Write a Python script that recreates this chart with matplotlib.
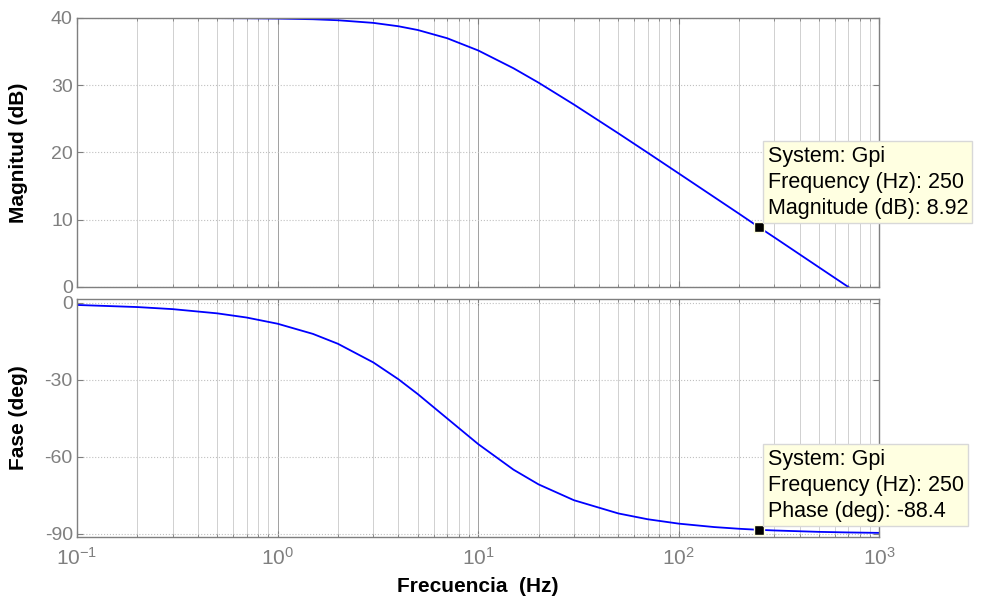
import numpy as np
import matplotlib
matplotlib.use('Agg')
from matplotlib import pyplot as plt
from matplotlib.ticker import LogLocator, FixedLocator, NullFormatter

plt.rcParams['font.family'] = ['Liberation Sans', 'DejaVu Sans']
plt.rcParams['axes.unicode_minus'] = False

freq = [0.1, 0.2, 0.3, 0.5, 0.7, 1, 1.5, 2, 3, 4, 5, 7, 10, 15, 20, 30, 50,
        70, 100, 150, 200, 250, 300, 500, 700, 1000]
mag_db = [40.00, 40.00, 39.99, 39.98, 39.96, 39.91, 39.81, 39.66, 39.27, 38.77,
          38.21, 36.99, 35.17, 32.52, 30.38, 27.13, 22.84, 19.96, 16.88, 13.37,
          10.88, 8.92, 7.36, 2.92, 0.00, -3.10]
phase_deg = [-0.82, -1.64, -2.45, -4.09, -5.71, -8.13, -12.09, -15.95, -23.20,
             -29.74, -35.54, -45.00, -55.01, -64.98, -70.71, -76.87, -82.03,
             -84.29, -86.00, -87.33, -88.00, -88.40, -88.66, -89.20, -89.43, -89.60]
tip_freq = 250
tip_mag = 8.92
tip_phase = -88.4

gray = '#7f7f7f'
fig = plt.figure(figsize=(9.83, 6.01), dpi=100)
ax1 = fig.add_axes([0.0783, 0.5225, 0.8163, 0.4476])
ax2 = fig.add_axes([0.0783, 0.1065, 0.8163, 0.396])

for ax in (ax1, ax2):
    ax.set_xscale('log')
    ax.set_xlim(0.1, 1000)
    ax.xaxis.set_major_locator(LogLocator(base=10, numticks=10))
    ax.xaxis.set_minor_locator(LogLocator(base=10, subs=np.arange(2, 10), numticks=20))
    ax.xaxis.set_minor_formatter(NullFormatter())
    ax.grid(True, which='major', axis='x', color='#a0a0a0', linestyle='-', linewidth=0.7)
    ax.grid(True, which='minor', axis='x', color='#d0d0d0', linestyle='-', linewidth=0.7)
    ax.grid(True, which='major', axis='y', color='#c0c0c0', linestyle=':', linewidth=0.8)
    ax.tick_params(which='both', direction='in', top=True, right=True,
                   colors=gray, labelcolor=gray, labelsize=14)
    ax.tick_params(which='major', length=4, pad=3)
    ax.tick_params(which='minor', length=2.5)
    ax.tick_params(axis='x', which='major', labelsize=15, pad=7)
    for s in ax.spines.values():
        s.set_color(gray)
        s.set_linewidth(1.0)
    ax.set_axisbelow(True)

ax1.plot(freq, mag_db, color='#0000ff', linewidth=1.3)
ax1.set_ylim(0, 40)
ax1.yaxis.set_major_locator(FixedLocator([0, 10, 20, 30, 40]))
ax1.tick_params(axis='x', labelbottom=False)
ax1.set_ylabel('Magnitud (dB)', fontsize=15, fontweight='bold')

ax2.plot(freq, phase_deg, color='#0000ff', linewidth=1.3)
ax2.set_ylim(-91.2, 1.5)
ax2.yaxis.set_major_locator(FixedLocator([-90, -60, -30, 0]))
ax2.set_ylabel('Fase (deg)', fontsize=15, fontweight='bold')
ax2.set_xlabel('Frecuencia  (Hz)', fontsize=15, fontweight='bold', labelpad=6)
ax1.yaxis.set_label_coords(-0.061, 0.5)
ax2.yaxis.set_label_coords(-0.061, 0.5)

tips = [
    (ax1, tip_mag, f'System: Gpi\nFrequency (Hz): {tip_freq}\nMagnitude (dB): {tip_mag}'),
    (ax2, tip_phase, f'System: Gpi\nFrequency (Hz): {tip_freq}\nPhase (deg): {tip_phase}'),
]
for ax, yv, txt in tips:
    ax.plot([tip_freq], [yv], marker='s', markersize=7, color='black',
            markeredgecolor='#ffffe1', markeredgewidth=1, clip_on=False, zorder=6)
    ax.annotate(txt, xy=(tip_freq, yv), xytext=(9, 8), textcoords='offset pixels',
                fontsize=15.5, color='black', ha='left', va='bottom', linespacing=1.32,
                annotation_clip=False, zorder=7,
                bbox=dict(boxstyle='square,pad=0.2', facecolor='#ffffe1',
                          edgecolor='#d8d8d8', linewidth=1))

fig.savefig('out.png', dpi=100)
